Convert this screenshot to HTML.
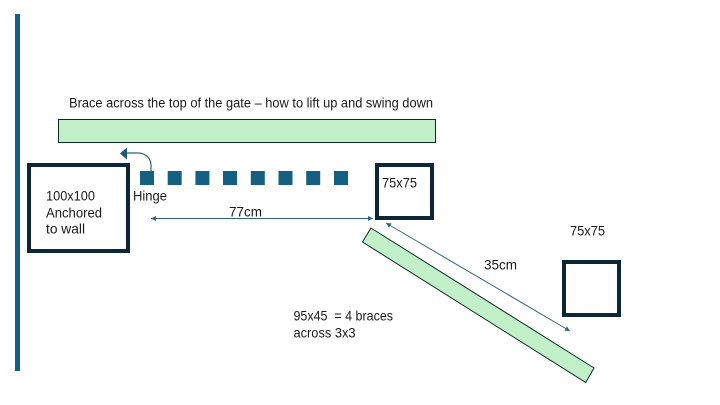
<!DOCTYPE html>
<html lang="en">
<head>
<meta charset="utf-8">
<title>Gate brace diagram</title>
<style>
html,body{margin:0;padding:0;background:#fff;width:720px;height:405px;overflow:hidden}
svg{display:block}
text{font-family:"Liberation Sans",sans-serif;font-size:13.5px;fill:#1a1a1a;white-space:pre}
</style>
</head>
<body>
<svg width="720" height="405" viewBox="0 0 720 405" xmlns="http://www.w3.org/2000/svg">
<defs>
<marker id="a" markerWidth="6" markerHeight="6" refX="5" refY="2.5" orient="auto-start-reverse" markerUnits="userSpaceOnUse"><path d="M0 0L5 2.5L0 5z" fill="#2f6580"/></marker>
</defs>
<rect x="15" y="14" width="5" height="357" fill="#156082"/>

<text x="69" y="107.500" textLength="364" lengthAdjust="spacingAndGlyphs">Brace across the top of the gate – how to lift up and swing down</text>
<rect x="58.5" y="119.5" width="377" height="23" fill="#c1f0c8" stroke="#0e2d20" stroke-width="1"/>

<rect x="29" y="165" width="99" height="86" fill="#fff" stroke="#0b2735" stroke-width="4"/>
<text x="46" y="200.500" textLength="49" lengthAdjust="spacingAndGlyphs">100x100</text>
<text x="46" y="217.500" textLength="56" lengthAdjust="spacingAndGlyphs">Anchored</text>
<text x="46" y="233.500" textLength="39" lengthAdjust="spacingAndGlyphs">to wall</text>

<path d="M151 171V165C151 158 145 153 138 153H127" fill="none" stroke="#2f6580" stroke-width="1.2"/>
<path d="M120 153.500L127 147.500V159.500z" fill="#1a5a78"/>

<g fill="#156082">
<rect x="140" y="171" width="14" height="14"/>
<rect x="167.700" y="171" width="14" height="14"/>
<rect x="195.400" y="171" width="14" height="14"/>
<rect x="223" y="171" width="14" height="14"/>
<rect x="250.800" y="171" width="14" height="14"/>
<rect x="278.500" y="171" width="14" height="14"/>
<rect x="306.200" y="171" width="14" height="14"/>
<rect x="334" y="171" width="14" height="14"/>
</g>
<text x="133" y="200.500" textLength="34" lengthAdjust="spacingAndGlyphs">Hinge</text>
<text x="229" y="216.500" textLength="33" lengthAdjust="spacingAndGlyphs">77cm</text>
<line x1="151" y1="218.500" x2="373" y2="218.500" stroke="#2f6580" stroke-width="1" marker-start="url(#a)" marker-end="url(#a)"/>

<rect x="377" y="165" width="55" height="53" fill="#fff" stroke="#0b2735" stroke-width="4"/>
<text x="382" y="187.500" textLength="35" lengthAdjust="spacingAndGlyphs">75x75</text>

<polygon points="371,228 594,368 585.700,382.500 362.500,242" fill="#c1f0c8" stroke="#0e2d20" stroke-width="1"/>
<line x1="386" y1="223" x2="570" y2="331" stroke="#2f6580" stroke-width="1" marker-start="url(#a)" marker-end="url(#a)"/>
<text x="484" y="269.500" textLength="33" lengthAdjust="spacingAndGlyphs">35cm</text>

<text x="570" y="235.500" textLength="35" lengthAdjust="spacingAndGlyphs">75x75</text>
<rect x="564" y="262" width="55" height="53" fill="#fff" stroke="#0b2735" stroke-width="4"/>

<text x="293.500" y="320.500" textLength="99.500" lengthAdjust="spacingAndGlyphs">95x45&#160;&#160;= 4 braces</text>
<text x="293.500" y="337.500" textLength="62" lengthAdjust="spacingAndGlyphs">across 3x3</text>
</svg>
</body>
</html>
